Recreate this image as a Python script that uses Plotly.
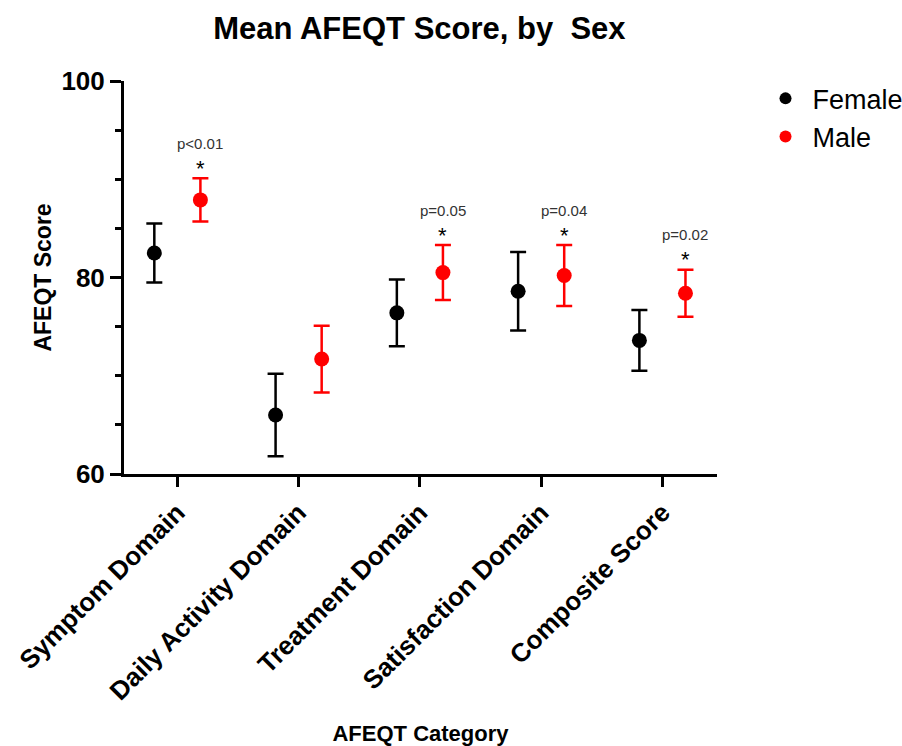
import plotly.graph_objects as go

categories = ["Symptom Domain", "Daily Activity Domain", "Treatment Domain",
              "Satisfaction Domain", "Composite Score"]
female_mean = [82.5, 66.0, 76.4, 78.6, 73.6]
female_err = [3.0, 4.2, 3.4, 4.0, 3.1]
male_mean = [87.9, 71.7, 80.5, 80.2, 78.4]
male_err = [2.2, 3.4, 2.8, 3.1, 2.4]
p_labels = ["p<0.01", "", "p=0.05", "p=0.04", "p=0.02"]

FONT = "Liberation Sans, Arial, sans-serif"
idx = list(range(len(categories)))
off = 0.19

fig = go.Figure()
fig.add_trace(go.Scatter(
    x=[i - off for i in idx], y=female_mean, mode="markers", name="Female",
    marker=dict(color="black", size=15),
    error_y=dict(type="data", array=female_err, color="black", thickness=2.5, width=8),
))
fig.add_trace(go.Scatter(
    x=[i + off for i in idx], y=male_mean, mode="markers", name="Male",
    marker=dict(color="#ff0000", size=15),
    error_y=dict(type="data", array=male_err, color="#ff0000", thickness=2.5, width=8),
))

for i, lab in enumerate(p_labels):
    if not lab:
        continue
    top = male_mean[i] + male_err[i]
    fig.add_annotation(x=i + off, y=top, text="*", showarrow=False,
                       yanchor="middle", yshift=10,
                       font=dict(family=FONT, size=22, color="black"))
    fig.add_annotation(x=i + off, y=top, text=lab, showarrow=False,
                       yanchor="middle", yshift=35,
                       font=dict(family=FONT, size=15, color="#333333"))

fig.update_layout(
    width=902, height=746,
    margin=dict(l=124, r=185, t=81, b=272, autoexpand=False),
    paper_bgcolor="white", plot_bgcolor="white",
    title=dict(text="<b>Mean AFEQT Score, by \u00a0Sex</b>", x=0.465, xanchor="center",
               y=0.962, yanchor="middle",
               font=dict(family=FONT, size=31, color="black")),
    font=dict(family=FONT, color="black"),
    showlegend=True,
    legend=dict(x=1.07, y=1.017, xanchor="left", yanchor="top",
                font=dict(family=FONT, size=27, color="black"),
                itemsizing="constant", itemwidth=44, tracegroupgap=0),
)
fig.update_xaxes(
    range=[-0.44, 4.45], tickmode="array", tickvals=idx,
    ticktext=["<b>%s</b>" % c for c in categories], tickangle=-45,
    tickfont=dict(family=FONT, size=26, color="black"),
    showline=True, linecolor="black", linewidth=3,
    ticks="outside", ticklen=10, tickwidth=3, tickcolor="black",
    showgrid=False, zeroline=False, automargin=False,
    title=dict(text="<b>AFEQT Category</b>", font=dict(family=FONT, size=22, color="black"),
               standoff=30),
)
fig.update_yaxes(
    range=[60, 100], tickmode="linear", tick0=60, dtick=20,
    tickfont=dict(family=FONT, size=26, color="black"),
    tickprefix="<b>", ticksuffix="</b>",
    showline=True, linecolor="black", linewidth=3,
    ticks="outside", ticklen=11, tickwidth=3, tickcolor="black",
    minor=dict(dtick=5, ticks="outside", ticklen=6, tickwidth=2.5, tickcolor="black"),
    showgrid=False, zeroline=False, automargin=False,
    title=dict(text="<b>AFEQT Score</b>", font=dict(family=FONT, size=23, color="black"),
               standoff=4),
)

fig.write_html("out.html", config={"displayModeBar": False},
               post_script="document.body.style.margin='0';")
